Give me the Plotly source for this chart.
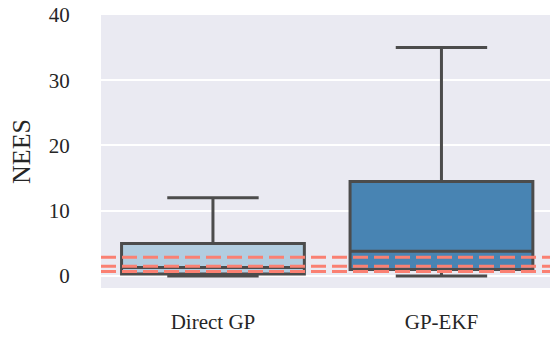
import plotly.graph_objects as go

categories = ["Direct GP", "GP-EKF"]
q1 = [0.3, 1.0]
median = [1.28, 3.8]
q3 = [4.98, 14.46]
lower = [0.0, 0.0]
upper = [12.0, 35.0]
fill_colors = ["#b2cde0", "#4884b3"]
ref_lines = [2.85, 1.5, 0.67]
y_ticks = [0, 10, 20, 30, 40]

fig = go.Figure()
for i, c in enumerate(categories):
    fig.add_trace(go.Box(
        x=[c], q1=[q1[i]], median=[median[i]], q3=[q3[i]],
        lowerfence=[lower[i]], upperfence=[upper[i]],
        fillcolor=fill_colors[i], line=dict(color="#4c4c4c", width=3),
        width=0.8, whiskerwidth=0.5, boxpoints=False, showlegend=False,
        hoverinfo="skip",
    ))

for v in ref_lines:
    fig.add_shape(type="line", xref="paper", x0=0, x1=1, yref="y", y0=v, y1=v,
                  line=dict(color="#fa8072", width=3, dash="15px,6px"), layer="above")

fig.update_layout(
    width=550, height=338,
    margin=dict(l=101, r=0, t=15, b=50, autoexpand=False),
    plot_bgcolor="#eaeaf2", paper_bgcolor="white",
    font=dict(family="Liberation Serif", color="#262626", size=21),
    boxmode="overlay",
)
fig.update_xaxes(range=[-0.49, 1.475], showgrid=False, zeroline=False,
                 tickfont=dict(size=21), ticks="outside", ticklen=15,
                 tickcolor="rgba(0,0,0,0)")
fig.update_yaxes(range=[-1.85, 40], tickvals=y_ticks, showgrid=True,
                 gridcolor="white", gridwidth=2, zeroline=False,
                 tickfont=dict(size=21), ticks="outside", ticklen=26,
                 tickcolor="rgba(0,0,0,0)",
                 title=dict(text="NEES", font=dict(size=26), standoff=10))

fig.write_html("out.html",
               config={"displayModeBar": False},
               post_script="document.body.style.margin='0';document.body.style.overflow='hidden';")
